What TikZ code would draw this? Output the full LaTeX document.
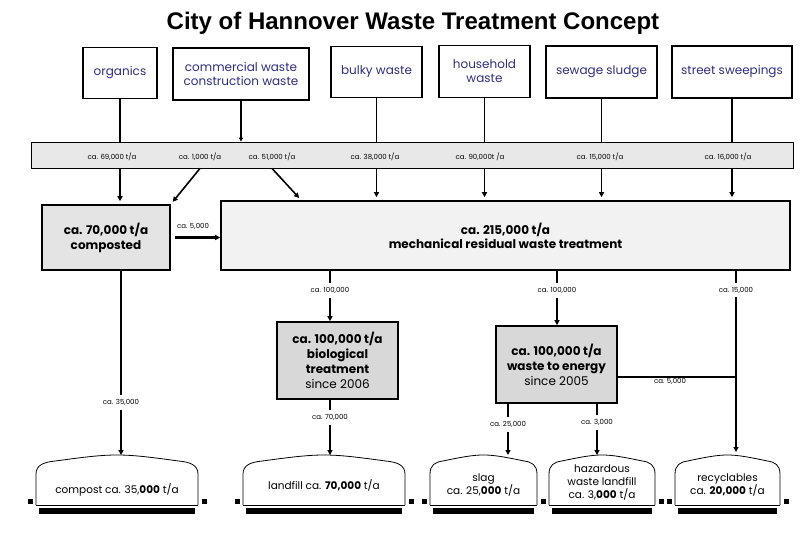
\documentclass[tikz,border=0pt]{standalone}
\usepackage{fontspec}
\setmainfont{Poppins}
\newfontfamily\headfont{Liberation Sans}
\usepackage{tikz}
\usetikzlibrary{arrows.meta}
\definecolor{Ink}{RGB}{45,45,125}
\definecolor{bandgray}{RGB}{232,232,232}
\definecolor{compgray}{RGB}{228,228,228}
\definecolor{mbtgray}{RGB}{242,242,242}
\definecolor{procgray}{RGB}{216,216,216}
\tikzset{
    Source/.style = {draw,line width=1.6pt,align=center,text=Ink,inner sep=0pt,
                     font=\fontsize{12}{14}\selectfont},
    Plant/.style = {draw,line width=1.6pt,align=center,inner sep=0pt,
                    font=\fontsize{12}{15}\selectfont},
    Rate/.style = {inner sep=1pt,font=\fontsize{7}{8}\selectfont},
    Heap/.style = {align=center,inner sep=0pt,font=\fontsize{10.5}{13}\selectfont},
    Flow/.style = {line width=1.6pt},
    Drop/.style = {line width=1.6pt,-{Triangle[length=5pt,width=5pt]},shorten >=3pt},
    Stub/.style = {line width=2.4pt,shorten >=3pt},
    Feed/.style = {line width=2.4pt,-{Triangle[length=5pt,width=5pt]},shorten <=4pt}
}
% landfill mound: name, left x, right x, text
\newcommand\heap[5]{%
    \pgfmathsetmacro\hw{#3-#2}
    \pgfmathsetmacro\hm{(#2+#3)/2}
    \draw[line width=0.8pt] (#2,505) -- (#2,474)
        .. controls (#2,465) and (#2+0.05*\hw,462) .. (#2+0.12*\hw,461)
        .. controls (#2+0.3*\hw,457) and (#2+0.4*\hw,455) .. (\hm,455)
        .. controls (#3-0.4*\hw,455) and (#3-0.3*\hw,457) .. (#3-0.12*\hw,461)
        .. controls (#3-0.05*\hw,462) and (#3,465) .. (#3,474) -- (#3,505);
    \draw[line width=0.8pt] (#2,505) -- (#3,505);
    \fill (#2+3,508) rectangle (#3-3,514);
    \fill (#2-8,499) rectangle ++(5,5);
    \fill (#3+4,499) rectangle ++(5,5);
    \coordinate (#1top) at (\hm,455);
    \node[Heap] (#1) at (\hm,#4) {#5};
}

\begin{document}
\begin{tikzpicture}[x=1pt,y=-1pt]
    \useasboundingbox (0,0) rectangle (810,540);
    \node[font=\headfont\bfseries\fontsize{24}{28}\selectfont] (T) at (413,23) {City of Hannover Waste Treatment Concept};
    % sources
    \node[Source,minimum width=74pt,minimum height=51pt] (org) at (120,73) {organics};
    \node[Source,minimum width=136pt,minimum height=52pt] (com) at (241,74) {commercial waste\\construction waste};
    \node[Source,minimum width=91pt,minimum height=51pt] (bulk) at (376.5,72) {bulky waste};
    \node[Source,minimum width=91pt,minimum height=52pt] (home) at (484.5,71.5) {household\\waste};
    \node[Source,minimum width=111pt,minimum height=52pt] (sew) at (601.5,72) {sewage sludge};
    \node[Source,minimum width=120pt,minimum height=52pt] (str) at (732,72) {street sweepings};
    % collection band
    \node[draw,fill=bandgray,line width=0.8pt,minimum width=762pt,minimum height=26pt] (band) at (412,155) {};
    \foreach \x/\t [count=\i] in {112/{ca. 69,000 t/a},200/{ca. 1,000 t/a},272/{ca. 51,000 t/a},
        375/{ca. 38,000 t/a},480/{ca. 90,000t /a},600/{ca. 15,000 t/a},728/{ca. 16,000 t/a}}
        {\node[Rate] (b\i) at (\x,157) {\t};}
    % treatment
    \node[Plant,fill=compgray,minimum width=128pt,minimum height=65pt,font=\bfseries\fontsize{12}{15}\selectfont] (comp) at (106,237.5) {ca. 70,000 t/a\\composted};
    \node[Plant,fill=mbtgray,minimum width=569pt,minimum height=69pt,font=\bfseries\fontsize{12}{14}\selectfont] (mbt) at (505.5,235.5) {ca. 215,000 t/a\\mechanical residual waste treatment};
    \node[Plant,fill=procgray,minimum width=121pt,minimum height=77pt] (bio) at (337.5,360.5) {\textbf{ca. 100,000 t/a}\\\textbf{biological}\\\textbf{treatment}\\since 2006};
    \node[Plant,fill=procgray,minimum width=121pt,minimum height=77pt] (wte) at (556.5,364.5) {\textbf{ca. 100,000 t/a}\\\textbf{waste to energy}\\since 2005};
    \node[Rate] (r5) at (193,226) {ca. 5,000};
    \node[Rate] (c35) at (121,402) {ca. 35,000};
    \node[Rate] (m1) at (330,290) {ca. 100,000};
    \node[Rate] (m2) at (557,290) {ca. 100,000};
    \node[Rate] (m3) at (736,290) {ca. 15,000};
    \node[Rate] (w5) at (670,381) {ca. 5,000};
    \node[Rate] (b70) at (330,417) {ca. 70,000};
    \node[Rate] (w25) at (508,424) {ca. 25,000};
    \node[Rate] (w3) at (597,422) {ca. 3,000};
    % disposal
    \heap{cmp}{36}{198}{490}{compost ca. 35,\textbf{000} t/a}
    \heap{lf}{243}{405}{485}{landfill ca. \textbf{70,000} t/a}
    \heap{slag}{430}{537}{485}{slag\\ca. 25,\textbf{000} t/a}
    \heap{haz}{549}{655}{483}{hazardous\\waste landfill\\ca. 3,\textbf{000} t/a}
    \heap{rec}{675}{780}{485}{recyclables\\ca. \textbf{20,000} t/a}
    % flows
    \foreach \s in {org,bulk,home,sew,str}
        {\draw[Flow] (\s.south) -- (\s.south |- band.north);}
    \draw[Flow,-{Triangle[length=4pt,width=4pt]}] (com.south) -- (com.south |- band.north);
    \draw[Drop] (org.south |- band.south) -- (org.south |- comp.north);
    \foreach \s in {bulk,home,sew,str}
        {\draw[Drop] (\s.south |- band.south) -- (\s.south |- mbt.north);}
    \draw[Drop] (b2 |- band.south) -- (comp.north east);
    \draw[Drop] (b3 |- band.south) -- ([xshift=81pt]mbt.north west);
    \draw[Feed] (comp.east) -- (comp.east -| mbt.west);
    \draw[Flow,shorten >=3pt] (c35 |- comp.south) -- (c35.north);
    \draw[Feed] (c35.south) -- (c35 |- cmptop);
    \foreach \r/\p in {m1/bio,m2/wte}
        {\draw[Stub] (\r |- mbt.south) -- (\r.north);
         \draw[Feed] (\r.south) -- (\r |- \p.north);}
    \draw[Stub] (m3 |- mbt.south) -- (m3.north);
    \draw[Drop,shorten <=3pt] (m3.south) -- (m3 |- rectop);
    \draw[Flow] (wte.east |- w5.north) -- (m3 |- w5.north);
    \foreach \r/\p/\h in {b70/bio/lf,w25/wte/slag,w3/wte/haz}
        {\draw[Stub] (\r |- \p.south) -- (\r.north);
         \draw[Feed] (\r.south) -- (\r |- \h top);}
\end{tikzpicture}
\end{document}
